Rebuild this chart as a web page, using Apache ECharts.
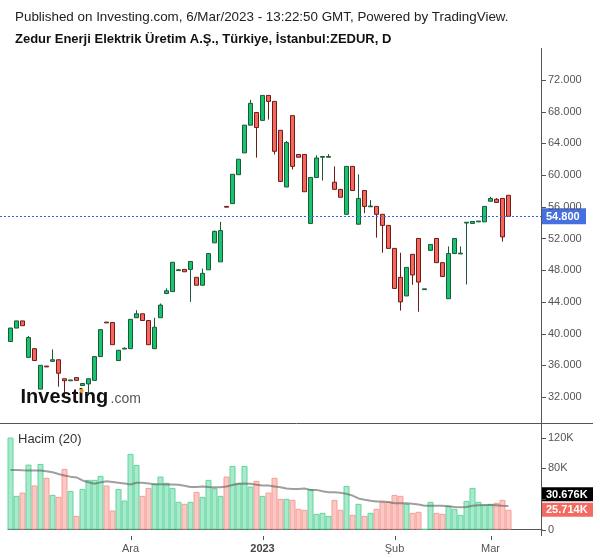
<!DOCTYPE html>
<html>
<head>
<meta charset="utf-8">
<script src="https://cdn.jsdelivr.net/npm/echarts@6/dist/echarts.min.js"></script>
<style>
  html, body { margin: 0; padding: 0; background: #fff; }
  #main { width: 600px; height: 558px; }
</style>
</head>
<body>
<div id="main"></div>
<script>
// trading days shown (Borsa Istanbul closed 8-14 Feb after the earthquake)
const dates = [
  '2022-11-03','2022-11-04','2022-11-07','2022-11-08','2022-11-09','2022-11-10','2022-11-11','2022-11-14','2022-11-15','2022-11-16',
  '2022-11-17','2022-11-18','2022-11-21','2022-11-22','2022-11-23','2022-11-24','2022-11-25','2022-11-28','2022-11-29','2022-11-30',
  '2022-12-01','2022-12-02','2022-12-05','2022-12-06','2022-12-07','2022-12-08','2022-12-09','2022-12-12','2022-12-13','2022-12-14',
  '2022-12-15','2022-12-16','2022-12-19','2022-12-20','2022-12-21','2022-12-22','2022-12-23','2022-12-26','2022-12-27','2022-12-28',
  '2022-12-29','2022-12-30','2023-01-02','2023-01-03','2023-01-04','2023-01-05','2023-01-06','2023-01-09','2023-01-10','2023-01-11',
  '2023-01-12','2023-01-13','2023-01-16','2023-01-17','2023-01-18','2023-01-19','2023-01-20','2023-01-23','2023-01-24','2023-01-25',
  '2023-01-26','2023-01-27','2023-01-30','2023-01-31','2023-02-01','2023-02-02','2023-02-03','2023-02-06','2023-02-07','2023-02-08',
  '2023-02-15','2023-02-16','2023-02-17','2023-02-20','2023-02-21','2023-02-22','2023-02-23','2023-02-24','2023-02-27','2023-02-28',
  '2023-03-01','2023-03-02','2023-03-03','2023-03-06'
];

const opens = [
  39.0, 40.7, 41.6, 37.0, 38.1, 33.0, 35.9, 36.5, 36.7, 34.3,
  34.05, 34.45, 33.45, 33.65, 34.1, 37.1, 41.45, 41.4, 36.6, 38.05,
  38.1, 42.0, 42.5, 41.65, 38.1, 42.0, 45.05, 45.3, 47.95, 48.1,
  48.1, 47.1, 46.1, 48.05, 51.45, 49.05, 56.05, 56.4, 60.05, 62.8,
  66.3, 67.9, 66.9, 70.05, 69.3, 65.65, 58.5, 67.5, 62.6, 62.6,
  53.9, 59.7, 62.25, 62.25, 59.1, 58.2, 55.05, 61.1, 53.8, 58.05,
  56.0, 56.05, 55.05, 53.65, 50.75, 47.1, 44.75, 50.0, 52.0, 45.55,
  50.5, 52.0, 48.95, 44.4, 50.1, 50.05, 53.95, 53.9, 54.1, 54.1,
  56.7, 56.95, 57.05, 57.45
];
const closes = [
  40.7, 41.6, 41.0, 39.5, 36.6, 36.0, 35.8, 36.7, 35.0, 34.05,
  34.15, 34.1, 33.7, 34.3, 37.1, 40.5, 41.35, 38.6, 37.9, 38.15,
  41.8, 42.5, 41.65, 38.6, 40.8, 43.6, 45.4, 49.0, 48.05, 47.8,
  49.1, 46.1, 47.6, 50.1, 52.9, 53.0, 55.95, 60.1, 62.0, 66.3,
  69.05, 66.0, 70.05, 69.3, 63.0, 59.2, 64.1, 61.1, 62.25, 57.9,
  59.7, 62.15, 62.35, 62.35, 58.2, 57.2, 61.1, 58.05, 57.05, 56.05,
  56.1, 55.05, 53.65, 50.75, 45.7, 44.0, 48.35, 47.4, 46.5, 45.65,
  51.25, 48.95, 47.2, 50.1, 52.0, 50.15, 54.05, 54.15, 54.2, 56.05,
  57.05, 56.55, 52.2, 54.8
];
const lows = [
  39.0, 40.7, 41.0, 37.0, 36.6, 33.0, 35.8, 36.5, 33.3, 32.0,
  34.05, 34.1, 33.45, 32.2, 34.1, 37.1, 41.35, 38.6, 36.6, 38.05,
  38.1, 42.0, 41.65, 38.6, 38.1, 42.0, 45.05, 45.3, 47.95, 47.8,
  44.0, 46.1, 46.1, 48.05, 51.45, 49.05, 55.95, 56.4, 60.05, 62.8,
  66.3, 62.2, 66.9, 67.0, 62.6, 59.2, 58.5, 60.7, 62.25, 57.9,
  53.9, 59.7, 59.3, 62.25, 58.2, 57.2, 55.05, 58.05, 53.8, 55.2,
  56.0, 52.1, 50.2, 50.75, 45.7, 42.9, 44.75, 46.15, 42.75, 45.55,
  50.5, 48.95, 47.2, 44.4, 50.1, 50.05, 46.2, 53.9, 54.1, 54.1,
  56.7, 56.55, 51.6, 54.8
];
const highs = [
  40.7, 41.6, 41.6, 39.7, 38.1, 36.0, 35.9, 38.0, 36.7, 34.3,
  34.15, 34.45, 33.7, 34.3, 37.1, 40.5, 41.45, 41.4, 37.9, 38.25,
  41.8, 42.95, 42.5, 41.65, 42.0, 43.8, 45.7, 49.0, 48.15, 48.1,
  49.1, 47.1, 48.2, 50.1, 53.0, 54.1, 56.05, 60.1, 62.0, 66.3,
  69.5, 67.9, 70.05, 70.05, 69.3, 65.65, 64.3, 67.5, 62.6, 62.6,
  59.7, 62.5, 62.35, 62.65, 61.1, 58.2, 61.1, 61.1, 60.1, 58.05,
  56.85, 56.05, 55.05, 53.65, 50.75, 50.2, 48.35, 50.0, 52.0, 45.65,
  51.25, 52.0, 48.95, 51.0, 52.0, 51.0, 54.05, 54.15, 54.2, 56.05,
  57.25, 57.1, 57.05, 57.45
];
// volume in thousands
const volumes = [
  120, 43.9, 48.2, 84.7, 57.4, 85.6, 67.4, 45.2, 42.6, 79.1,
  50.4, 17.8, 53, 64.8, 64.8, 70, 57.4, 24.8, 53, 37.8,
  98.7, 84.3, 43.9, 54.3, 59.6, 69.1, 60.9, 54.3, 36.1, 33.5,
  36.1, 49.1, 42.6, 64.8, 53.9, 43.9, 69.1, 83, 60.4, 83,
  56, 63.5, 43.9, 48.2, 67.4, 40, 40, 38.7, 27, 25.7,
  52.6, 20.4, 21.7, 17.8, 38.7, 25.7, 56.9, 19.1, 33.5, 17.8,
  21.7, 27, 36.1, 36.1, 45.2, 43.9, 33.5, 21.7, 23.1, 0.5,
  36.1, 21.7, 20.4, 30.9, 27, 19.1, 37.4, 54.3, 36.1, 32.2,
  33.5, 34.8, 38.7, 25.714
];
// 20-day volume average as drawn
const volumeMA = [
  77.8, 77.5, 77.2, 77, 77, 77, 76, 74.7, 72.5, 70.4,
  69, 68, 64, 61.7, 59.6, 61.5, 63, 62, 61, 60,
  58.7, 61, 61, 60, 59, 59, 58.7, 58.7, 58.5, 57,
  55.5, 55.5, 56, 55.5, 55.2, 55.2, 56, 58, 59.6, 60,
  59.6, 58.5, 57.4, 57.4, 56, 55.2, 53.5, 53, 53, 53.5,
  51.7, 51.7, 50, 48.6, 48.6, 48, 46.5, 44.3, 40.5, 38.7,
  37.5, 36.5, 36.5, 36, 34.3, 34.3, 34.3, 33.5, 32.6, 31,
  30.9, 30.9, 30.9, 30.5, 29.5, 29.1, 29.5, 30.9, 31.5, 32,
  32, 31.5, 31, 30.676
];

const priceTicks = [32, 36, 40, 44, 48, 52, 56, 60, 64, 68, 72];
const volumeTicks = [0, 40, 80, 120];
const volumeLabels = [0, 80, 120];
const monthNames = ['Oca', 'Şub', 'Mar', 'Nis', 'May', 'Haz', 'Tem', 'Ağu', 'Eyl', 'Eki', 'Kas', 'Ara'];

const FONT = '"Liberation Sans", Arial, sans-serif';
const UP = '#17c36f', UP_DARK = '#1b5a36';
const DOWN = '#f6665b', DOWN_DARK = '#6e1b1b';
const AXIS = '#555';
const lastPrice = closes[closes.length - 1];

const candleData = dates.map((d, i) => [i, opens[i], closes[i], lows[i], highs[i]]);
const volData = volumes.map((v, i) => ({
  value: [i, v],
  itemStyle: closes[i] >= opens[i]
    ? { color: '#a6ebcb', borderColor: '#62d59d' }
    : { color: '#fdc8c4', borderColor: '#f59e97' }
}));
const maData = volumeMA.map((v, i) => [i, v]);

// first trading day of each month
const monthStarts = [];
dates.forEach((d, i) => {
  if (i > 0 && d.slice(5, 7) !== dates[i - 1].slice(5, 7)) monthStarts.push(i);
});
function monthLabel(i) {
  const d = dates[Math.round(i)];
  if (!d) return '';
  const m = +d.slice(5, 7);
  return m === 1 ? '{y|' + d.slice(0, 4) + '}' : monthNames[m - 1];
}

const chart = echarts.init(document.getElementById('main'));

const option = {
  animation: false,
  backgroundColor: '#fff',
  grid: [
    { left: 0, right: 58, top: 52, height: 371 },
    { left: 8, right: 58, top: 423, height: 106.5 }
  ],
  xAxis: [
    { type: 'value', gridIndex: 0, min: -1.75, max: 88.583, show: false },
    {
      type: 'value', gridIndex: 1, min: -0.4167, max: 88.583, offset: 6,
      splitLine: { show: false },
      axisLine: { show: true, lineStyle: { color: AXIS } },
      axisTick: { show: false },
      axisLabel: {
        customValues: monthStarts, formatter: monthLabel, margin: 8,
        color: AXIS, fontSize: 11, fontFamily: FONT,
        rich: { y: { fontWeight: 'bold', color: '#444', fontSize: 11, fontFamily: FONT } }
      }
    }
  ],
  yAxis: [
    {
      type: 'value', gridIndex: 0, position: 'right', min: 28.72, max: 75.53,
      splitLine: { show: false },
      axisLine: { show: false },
      axisTick: { show: false },
      axisLabel: {
        customValues: priceTicks, margin: 6, color: AXIS, fontSize: 11, fontFamily: FONT,
        formatter: v => v.toFixed(3)
      }
    },
    {
      type: 'value', gridIndex: 1, position: 'right', min: 0, max: 139,
      splitLine: { show: false },
      axisLine: { show: false },
      axisTick: { show: false },
      axisLabel: {
        customValues: volumeLabels, margin: 6, color: AXIS, fontSize: 11, fontFamily: FONT,
        formatter: v => (v === 0 ? '0' : v + 'K')
      }
    }
  ],
  series: [
    {
      type: 'candlestick',
      xAxisIndex: 0, yAxisIndex: 0,
      data: candleData,
      encode: { x: 0, y: [1, 2, 3, 4] },
      barWidth: 4,
      itemStyle: {
        color: UP, color0: DOWN,
        borderColor: UP_DARK, borderColor0: DOWN_DARK,
        borderWidth: 1
      },
      markLine: {
        silent: true, symbol: 'none',
        label: { show: false },
        lineStyle: { color: '#2f63e8', type: [2, 2], width: 1 },
        data: [{ yAxis: lastPrice }]
      }
    },
    {
      type: 'bar',
      xAxisIndex: 1, yAxisIndex: 1,
      data: volData,
      barWidth: 6,
      itemStyle: { borderWidth: 1 }
    },
    {
      type: 'line',
      xAxisIndex: 1, yAxisIndex: 1,
      data: maData,
      showSymbol: false,
      lineStyle: { color: 'rgba(95,95,95,0.6)', width: 2 },
      z: 5
    }
  ]
};

chart.setOption(option);

// annotations: titles, logo, pane borders, ticks and value tags
const priceY = chart.convertToPixel({ yAxisIndex: 0 }, lastPrice);
const lastVol = volumes[volumes.length - 1];
const lastMA = volumeMA[volumeMA.length - 1];
const volY = chart.convertToPixel({ yAxisIndex: 1 }, lastVol);
const maY = Math.min(chart.convertToPixel({ yAxisIndex: 1 }, lastMA), volY - 15.5);

function tag(y, w, h, fill, text) {
  return {
    type: 'group', x: 542, y: y - h / 2, z: 100,
    children: [
      { type: 'rect', shape: { x: 0, y: 0, width: w, height: h }, style: { fill: fill } },
      { type: 'text', x: 4, y: h / 2 + 0.5,
        style: { text: text, fill: '#fff', font: 'bold 11px ' + FONT, verticalAlign: 'middle', textVerticalAlign: 'middle' } }
    ]
  };
}
function label(x, y, text, font, fill) {
  return { type: 'text', x: x, y: y, z: 100,
    style: { text: text, font: font, fill: fill, verticalAlign: 'middle', textVerticalAlign: 'middle' } };
}
function seg(x1, y1, x2, y2) {
  return { type: 'line', z: 90, shape: { x1: x1, y1: y1, x2: x2, y2: y2 }, style: { stroke: AXIS, lineWidth: 1 } };
}

const ticks = [];
priceTicks.forEach(v => {
  const y = Math.round(chart.convertToPixel({ yAxisIndex: 0 }, v)) + 0.5;
  ticks.push(seg(542, y, 546, y));
});
volumeTicks.forEach(v => {
  const y = Math.round(chart.convertToPixel({ yAxisIndex: 1 }, v)) + 0.5;
  ticks.push(seg(542, y, 546, y));
});
monthStarts.forEach(i => {
  const x = Math.round(chart.convertToPixel({ xAxisIndex: 1 }, i)) + 0.5;
  ticks.push(seg(x, 536, x, 540));
});

chart.setOption({
  graphic: [
    label(15, 17, 'Published on Investing.com, 6/Mar/2023 - 13:22:50 GMT, Powered by TradingView.', '13.4px ' + FONT, '#222'),
    label(15, 39, 'Zedur Enerji Elektrik Üretim A.Ş., Türkiye, İstanbul:ZEDUR, D', 'bold 13px ' + FONT, '#111'),
    label(18, 439, 'Hacim (20)', '13px ' + FONT, '#333'),
    label(20.5, 397, 'Investing', 'bold 20px ' + FONT, '#111'),
    label(110.5, 399.5, '.com', '14px ' + FONT, '#555'),
    { type: 'circle', z: 101, shape: { cx: 81.6, cy: 390.8, r: 2.1 }, style: { fill: '#f5a01a' } },
    seg(541.5, 48, 541.5, 536),
    seg(0, 423.5, 593, 423.5),
    ...ticks,
    tag(priceY, 44, 16, '#4670e0', lastPrice.toFixed(3)),
    tag(maY, 51, 14, '#000', lastMA.toFixed(3) + 'K'),
    tag(volY, 51, 14, '#f36b60', lastVol.toFixed(3) + 'K')
  ]
});
</script>
</body>
</html>
